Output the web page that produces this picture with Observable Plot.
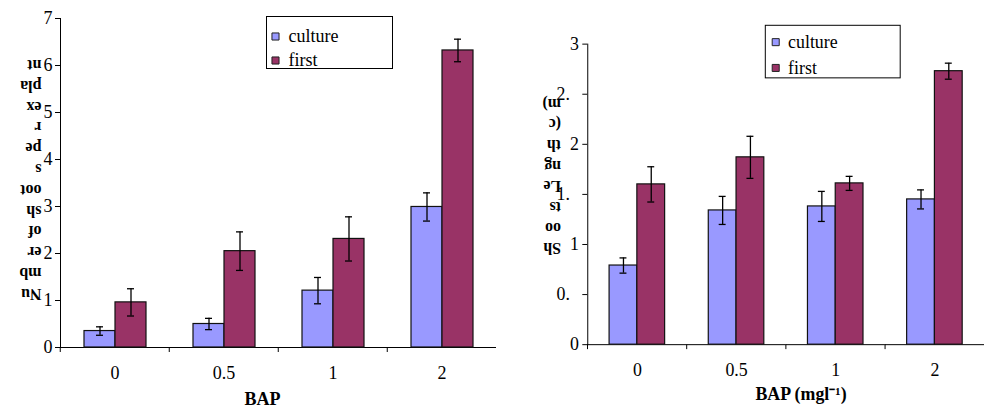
<!DOCTYPE html>
<html>
<head>
<meta charset="utf-8">
<script src="https://cdn.jsdelivr.net/npm/d3@7"></script>
<script src="https://cdn.jsdelivr.net/npm/@observablehq/plot@0.6"></script>
<style>
  html, body { margin: 0; padding: 0; background: #fff; overflow: hidden; width: 985px; height: 408px; }
  #left { position: absolute; left: 0; top: 0; }
  #right { position: absolute; left: 497px; top: 0; }
  #left svg, #right svg, #left svg text, #right svg text { font-family: "Liberation Serif", "Times New Roman", serif !important; }
</style>
</head>
<body>
<div id="left"></div>
<div id="right"></div>
<script>
const categories = ["0", "0.5", "1", "2"];
const series = ["culture", "first"];
const colors = ["#9999ff", "#993366"];

// Left: number of shoots per explant
const shootsCulture = [0.35, 0.50, 1.21, 2.99];
const shootsCultureErr = [0.09, 0.12, 0.28, 0.30];
const shootsFirst = [0.96, 2.05, 2.31, 6.32];
const shootsFirstErr = [0.29, 0.41, 0.47, 0.24];
const leftTicks = [0, 1, 2, 3, 4, 5, 6, 7];

// Right: shoots length (cm)
const lengthCulture = [0.79, 1.34, 1.38, 1.45];
const lengthCultureErr = [0.076, 0.14, 0.15, 0.095];
const lengthFirst = [1.60, 1.87, 1.61, 2.73];
const lengthFirstErr = [0.176, 0.21, 0.07, 0.08];
const rightTickValues = [0, 0.5, 1, 1.5, 2, 2.5, 3];
const rightTickLabels = ["0", "0.", "1", "1.", "2", "2.", "3"];

const leftYLabel = "Nu\nmb\ner\nof\nsh\noot\ns\npe\nr\nex\npla\nnt";
const rightYLabel = "Sh\noo\nts\nLe\nng\nth\n(c\nm)";
const leftXLabel = "BAP";
const rightXLabel = "BAP (mgl\u207B\u00B9)";

function rowsOf(a, aErr, b, bErr) {
  return categories.flatMap((c, i) => [
    {bap: c, series: series[0], value: a[i], err: aErr[i]},
    {bap: c, series: series[1], value: b[i], err: bErr[i]}
  ]);
}

const FONT = "Liberation Serif";

function legendMarks(o) {
  const marks = [
    Plot.frame({facet: "super", fill: "white", stroke: "#000", strokeWidth: 1,
      insetLeft: o.boxL, insetRight: o.boxR, insetTop: o.boxT, insetBottom: o.boxB})
  ];
  series.forEach((s, i) => {
    marks.push(Plot.dot([s], {facet: "super", frameAnchor: "top-left", dx: o.symX, dy: o.rowY[i],
      symbol: "square", r: 4, fill: colors[i], stroke: "#222", strokeWidth: 1}));
    marks.push(Plot.text([s], {facet: "super", frameAnchor: "top-left", dx: o.textX, dy: o.rowY[i],
      text: d => d, textAnchor: "start", lineAnchor: "middle", fontSize: 18, fontFamily: FONT, fill: "#000"}));
  });
  return marks;
}

function chart(o) {
  const rows = o.rows;
  const capInset = o.capInset;
  return Plot.plot({
    width: o.width,
    height: 408,
    marginLeft: o.marginLeft,
    marginRight: 0,
    marginTop: o.marginTop,
    marginBottom: 61,
    style: {fontFamily: FONT, fontSize: "18px", background: "white", color: "#000", overflow: "visible"},
    fx: {domain: categories, padding: 0, label: null, axis: null},
    x: {domain: series, paddingInner: 0, paddingOuter: 0.74, axis: null},
    y: {domain: [0, o.ymax], axis: null},
    color: {domain: series, range: colors},
    marks: [
      Plot.ruleY([0], {stroke: "#000", strokeWidth: 1}),
      Plot.barY(rows, {fx: "bap", x: "series", y: "value", fill: "series", stroke: "#111", strokeWidth: 1.2}),
      Plot.ruleX(rows, {fx: "bap", x: "series", y1: d => d.value - d.err, y2: d => d.value + d.err, stroke: "#000", strokeWidth: 1.3}),
      Plot.tickY(rows, {fx: "bap", x: "series", y: d => d.value - d.err, inset: capInset, stroke: "#000", strokeWidth: 1.3}),
      Plot.tickY(rows, {fx: "bap", x: "series", y: d => d.value + d.err, inset: capInset, stroke: "#000", strokeWidth: 1.3}),
      Plot.frame({facet: "super", anchor: "left", stroke: "#000", strokeWidth: 1}),
      ...o.yAxes,
      Plot.axisFx({anchor: "bottom", tickSize: 0, tickPadding: 19, fontSize: 18, fontFamily: FONT, label: null, fill: "#000"}),
      Plot.axisFx({anchor: "bottom", text: null, tickSize: 5, dx: -o.band / 2, label: null, stroke: "#000"}),
      Plot.text([o.yLabel], {facet: "super", frameAnchor: "left", dx: o.yLabelDx, dy: o.yLabelDy, text: d => d,
        rotate: 180, textAnchor: "start", lineAnchor: "middle", lineHeight: o.lineHeight,
        fontSize: o.yLabelSize, fontWeight: "bold", fontFamily: FONT, fill: "#000"}),
      Plot.text([o.xLabel], {facet: "super", frameAnchor: "bottom", dx: o.xLabelDx, dy: o.xLabelDy, text: d => d,
        lineAnchor: "middle", fontSize: 18, fontWeight: "bold", fontFamily: FONT, fill: "#000"}),
      ...legendMarks(o.legend)
    ]
  });
}

const left = chart({
  rows: rowsOf(shootsCulture, shootsCultureErr, shootsFirst, shootsFirstErr),
  width: 497, marginLeft: 59, marginTop: 18, ymax: 7, band: 109.5, capInset: 12,
  yAxes: [
    Plot.axisY({ticks: leftTicks, tickSize: 5, tickPadding: 3, tickFormat: d => String(d),
      fontSize: 18, fontFamily: FONT, label: null, fill: "#000", stroke: "#000"})
  ],
  yLabel: leftYLabel, yLabelDx: -19, yLabelDy: -2, yLabelSize: 16, lineHeight: 1.3,
  xLabel: leftXLabel, xLabelDx: -16, xLabelDy: 52,
  legend: {boxL: 206, boxR: 104, boxT: -2, boxB: 279, symX: 215, textX: 228, rowY: [18, 42]}
});

const right = chart({
  rows: rowsOf(lengthCulture, lengthCultureErr, lengthFirst, lengthFirstErr),
  width: 492, marginLeft: 90, marginTop: 44, ymax: 3, band: 100.5, capInset: 10.5,
  yAxes: [
    Plot.axisY({ticks: rightTickValues, tickSize: 5, text: null, label: null, stroke: "#000"}),
    Plot.axisY({ticks: rightTickValues.filter(v => Number.isInteger(v)), tickSize: 0, tickPadding: 9,
      tickFormat: d => rightTickLabels[rightTickValues.indexOf(d)],
      fontSize: 18, fontFamily: FONT, label: null, fill: "#000"}),
    Plot.axisY({ticks: rightTickValues.filter(v => !Number.isInteger(v)), tickSize: 0, tickPadding: 18,
      tickFormat: d => rightTickLabels[rightTickValues.indexOf(d)],
      fontSize: 18, fontFamily: FONT, label: null, fill: "#000"})
  ],
  yLabel: rightYLabel, yLabelDx: -27, yLabelDy: -17, yLabelSize: 16, lineHeight: 1.3,
  xLabel: rightXLabel, xLabelDx: 15, xLabelDy: 50,
  legend: {boxL: 179, boxR: 85, boxT: -19, boxB: 269, symX: 189.5, textX: 202, rowY: [-2, 24]}
});

document.getElementById("left").append(left);
document.getElementById("right").append(right);
</script>
</body>
</html>
